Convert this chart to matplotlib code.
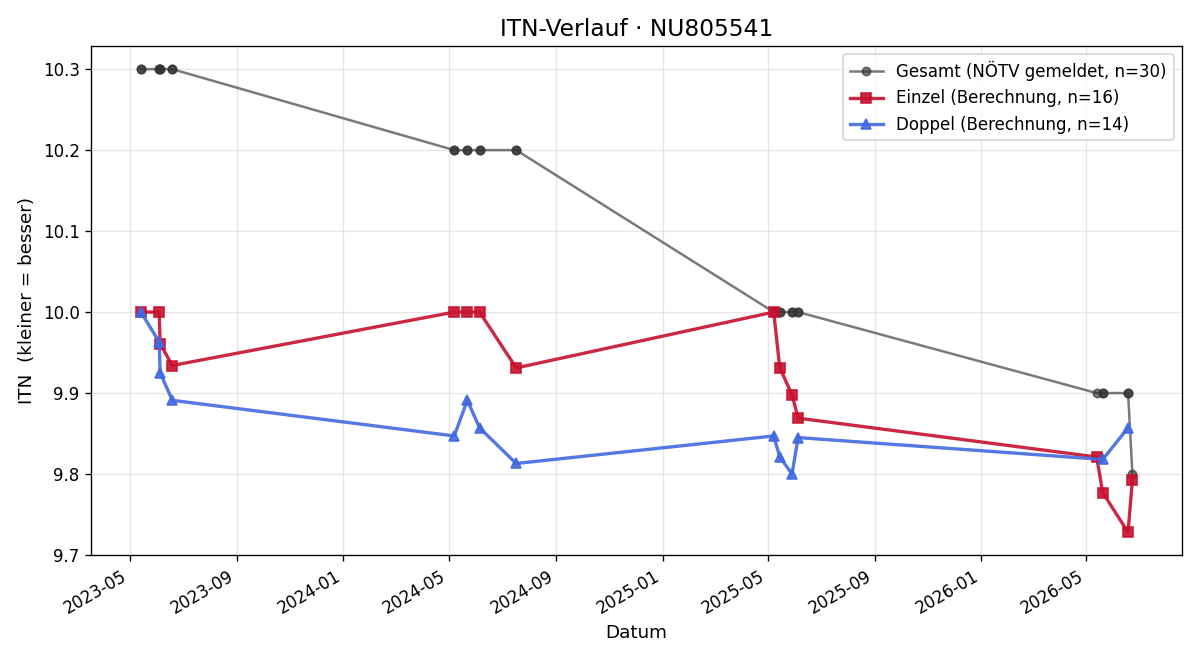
import matplotlib
matplotlib.use("Agg")
import matplotlib.pyplot as plt
import matplotlib.dates as mdates
import pandas as pd

einzel_dates = ["2023-05-14", "2023-06-04", "2023-06-05", "2023-06-19",
                "2024-05-07", "2024-05-22", "2024-06-05", "2024-07-17",
                "2025-05-08", "2025-05-15", "2025-05-29", "2025-06-05",
                "2026-05-13", "2026-05-20", "2026-06-18", "2026-06-23"]
einzel_itn = [10.0, 10.0, 9.961, 9.934,
              10.0, 10.0, 10.0, 9.931,
              10.0, 9.931, 9.898, 9.869,
              9.821, 9.777, 9.728, 9.793]

doppel_dates = ["2023-05-14", "2023-06-04", "2023-06-05", "2023-06-19",
                "2024-05-07", "2024-05-22", "2024-06-05", "2024-07-17",
                "2025-05-08", "2025-05-15", "2025-05-29", "2025-06-05",
                "2026-05-20", "2026-06-18"]
doppel_itn = [10.0, 9.963, 9.925, 9.891,
              9.847, 9.891, 9.857, 9.813,
              9.847, 9.821, 9.800, 9.845,
              9.818, 9.857]

# reported ITN at each match date (singles + doubles)
gesamt_dates = ["2023-05-14", "2023-05-14", "2023-06-04", "2023-06-04", "2023-06-05", "2023-06-05",
                "2023-06-19", "2023-06-19",
                "2024-05-07", "2024-05-07", "2024-05-22", "2024-05-22", "2024-06-05", "2024-06-05",
                "2024-07-17", "2024-07-17",
                "2025-05-08", "2025-05-08", "2025-05-15", "2025-05-15", "2025-05-29", "2025-05-29",
                "2025-06-05", "2025-06-05",
                "2026-05-13", "2026-05-20", "2026-05-20", "2026-06-18", "2026-06-18", "2026-06-23"]
gesamt_itn = [10.3] * 8 + [10.2] * 8 + [10.0] * 8 + [9.9] * 5 + [9.8]

g_x = pd.to_datetime(gesamt_dates)
e_x = pd.to_datetime(einzel_dates)
d_x = pd.to_datetime(doppel_dates)

fig, ax = plt.subplots(figsize=(10, 5.5), dpi=120)
ax.plot(g_x, gesamt_itn, color="#333333", alpha=0.65, marker="o", markersize=5,
        linewidth=1.5, label=f"Gesamt (NÖTV gemeldet, n={len(gesamt_itn)})")
ax.plot(e_x, einzel_itn, color="#c8102e", alpha=0.9, marker="s", markersize=6,
        linewidth=2, label=f"Einzel (Berechnung, n={len(einzel_itn)})")
ax.plot(d_x, doppel_itn, color="#4169e1", alpha=0.9, marker="^", markersize=6,
        linewidth=2, label=f"Doppel (Berechnung, n={len(doppel_itn)})")

ax.set_title("ITN-Verlauf · NU805541", fontsize=14)
ax.set_xlabel("Datum", fontsize=11)
ax.set_ylabel("ITN  (kleiner = besser)", fontsize=11)
ax.xaxis.set_major_locator(mdates.MonthLocator(bymonth=[1, 5, 9]))
ax.xaxis.set_major_formatter(mdates.DateFormatter("%Y-%m"))
ax.grid(True, alpha=0.3)
ax.legend(loc="upper right")
fig.autofmt_xdate()
fig.tight_layout()
fig.savefig("out.png")
